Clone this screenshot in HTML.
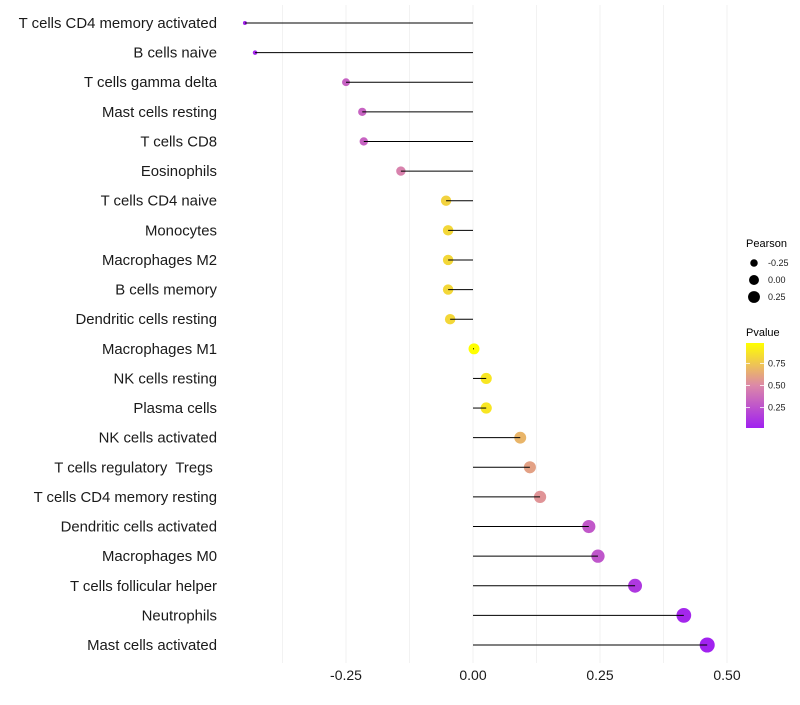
<!DOCTYPE html>
<html><head><meta charset="utf-8"><style>
html,body{margin:0;padding:0;background:#fff;}
svg text{font-family:"Liberation Sans",sans-serif;white-space:pre;}
</style></head><body>
<svg id="chart" width="800" height="700" xmlns="http://www.w3.org/2000/svg">
<g id="grid"></g>
<g id="marks"></g>
<g id="ylabels"></g>
<g id="xlabels"></g>
<g id="legend"></g>
</svg>
<script>
const categories = ["T cells CD4 memory activated","B cells naive","T cells gamma delta","Mast cells resting","T cells CD8","Eosinophils","T cells CD4 naive","Monocytes","Macrophages M2","B cells memory","Dendritic cells resting","Macrophages M1","NK cells resting","Plasma cells","NK cells activated","T cells regulatory  Tregs ","T cells CD4 memory resting","Dendritic cells activated","Macrophages M0","T cells follicular helper","Neutrophils","Mast cells activated"];
const pearson = [-0.449,-0.429,-0.25,-0.218,-0.215,-0.142,-0.053,-0.049,-0.049,-0.049,-0.045,0.002,0.026,0.026,0.093,0.112,0.132,0.228,0.246,0.319,0.415,0.461];
const pvalue = [0.04,0.05,0.32,0.33,0.33,0.47,0.8,0.82,0.82,0.82,0.82,0.98,0.88,0.88,0.68,0.6,0.55,0.28,0.27,0.13,0.05,0.03];
const xTicks = [-0.25,0,0.25,0.5];
const xTickLabels = ["-0.25","0.00","0.25","0.50"];
const sizeLegend = [-0.25,0,0.25];
const sizeLegendLabels = ["-0.25","0.00","0.25"];
const colorTicks = [0.75,0.5,0.25];
const colorTickLabels = ["0.75","0.50","0.25"];

const NS="http://www.w3.org/2000/svg";
function mk(tag,attrs,parent){const e=document.createElementNS(NS,tag);for(const k in attrs)e.setAttribute(k,attrs[k]);parent.appendChild(e);return e;}
const x = v => 473 + v*508;
const y = i => 23 + i*(645-23)/(categories.length-1);
const rad = v => Math.sqrt(Math.max(1.5, 30 + 58*v));
const stops=[[0,[160,32,240]],[0.5,[220,136,168]],[1,[255,255,0]]];
const pmin=0.02,pmax=0.98;
function col(p){let t=(p-pmin)/(pmax-pmin);t=Math.max(0,Math.min(1,t));let a=stops[0],b=stops[1];if(t>0.5){a=stops[1];b=stops[2];}const f=(t-a[0])/(b[0]-a[0]);const c=a[1].map((v,k)=>Math.round(v+(b[1][k]-v)*f));return `rgb(${c})`;}

const grid=document.getElementById('grid');
for(let v=-0.375;v<=0.5;v+=0.125){const l=mk('line',{x1:x(v),x2:x(v),y1:5,y2:663,stroke:'#f2f2f2','stroke-width':1},grid);}
const marks=document.getElementById('marks'),yl=document.getElementById('ylabels');
categories.forEach((c,i)=>{
  const pt=mk('circle',{cx:x(pearson[i]),cy:y(i),r:rad(pearson[i]),fill:col(pvalue[i])},marks);
  
  const s=mk('line',{x1:x(0),x2:x(pearson[i]),y1:y(i),y2:y(i),stroke:'#000','stroke-width':1},marks);
  
  const t=mk('text',{x:217,y:y(i)+5,'text-anchor':'end','font-size':14.9,fill:'#1a1a1a','xml:space':'preserve'},yl);t.textContent=c;
  
});
const xl=document.getElementById('xlabels');
xTicks.forEach((v,i)=>{const t=mk('text',{x:x(v),y:680,'text-anchor':'middle','font-size':14,fill:'#1a1a1a'},xl);t.textContent=xTickLabels[i];});
const lg=document.getElementById('legend');
let t=mk('text',{x:746,y:247,'font-size':11,fill:'#000'},lg);t.textContent='Pearson';
sizeLegend.forEach((v,i)=>{const cy=263+i*17;const c=mk('circle',{cx:754,cy:cy,r:rad(v)*0.8+0.6,fill:'#000'},lg);
 const tt=mk('text',{x:768,y:cy+3,'font-size':9,fill:'#1a1a1a'},lg);tt.textContent=sizeLegendLabels[i];});
t=mk('text',{x:746,y:336,'font-size':11,fill:'#000'},lg);t.textContent='Pvalue';
const defs=mk('defs',{},lg);const gr=mk('linearGradient',{id:'pg',x1:0,y1:1,x2:0,y2:0},defs);
[0,0.25,0.5,0.75,1].forEach(f=>mk('stop',{offset:f,'stop-color':col(pmin+f*(pmax-pmin))},gr));
const bar=mk('rect',{x:746,y:343,width:18,height:85,fill:'url(#pg)'},lg);
const cy=p=>428-(p-pmin)/(pmax-pmin)*85;
colorTicks.forEach((v,i)=>{mk('line',{x1:746,x2:750,y1:cy(v),y2:cy(v),stroke:'#fff','stroke-width':0.8},lg);mk('line',{x1:760,x2:764,y1:cy(v),y2:cy(v),stroke:'#fff','stroke-width':0.8},lg);
 const tt=mk('text',{x:768,y:cy(v)+3,'font-size':9,fill:'#1a1a1a'},lg);tt.textContent=colorTickLabels[i];});
</script>
</body></html>
